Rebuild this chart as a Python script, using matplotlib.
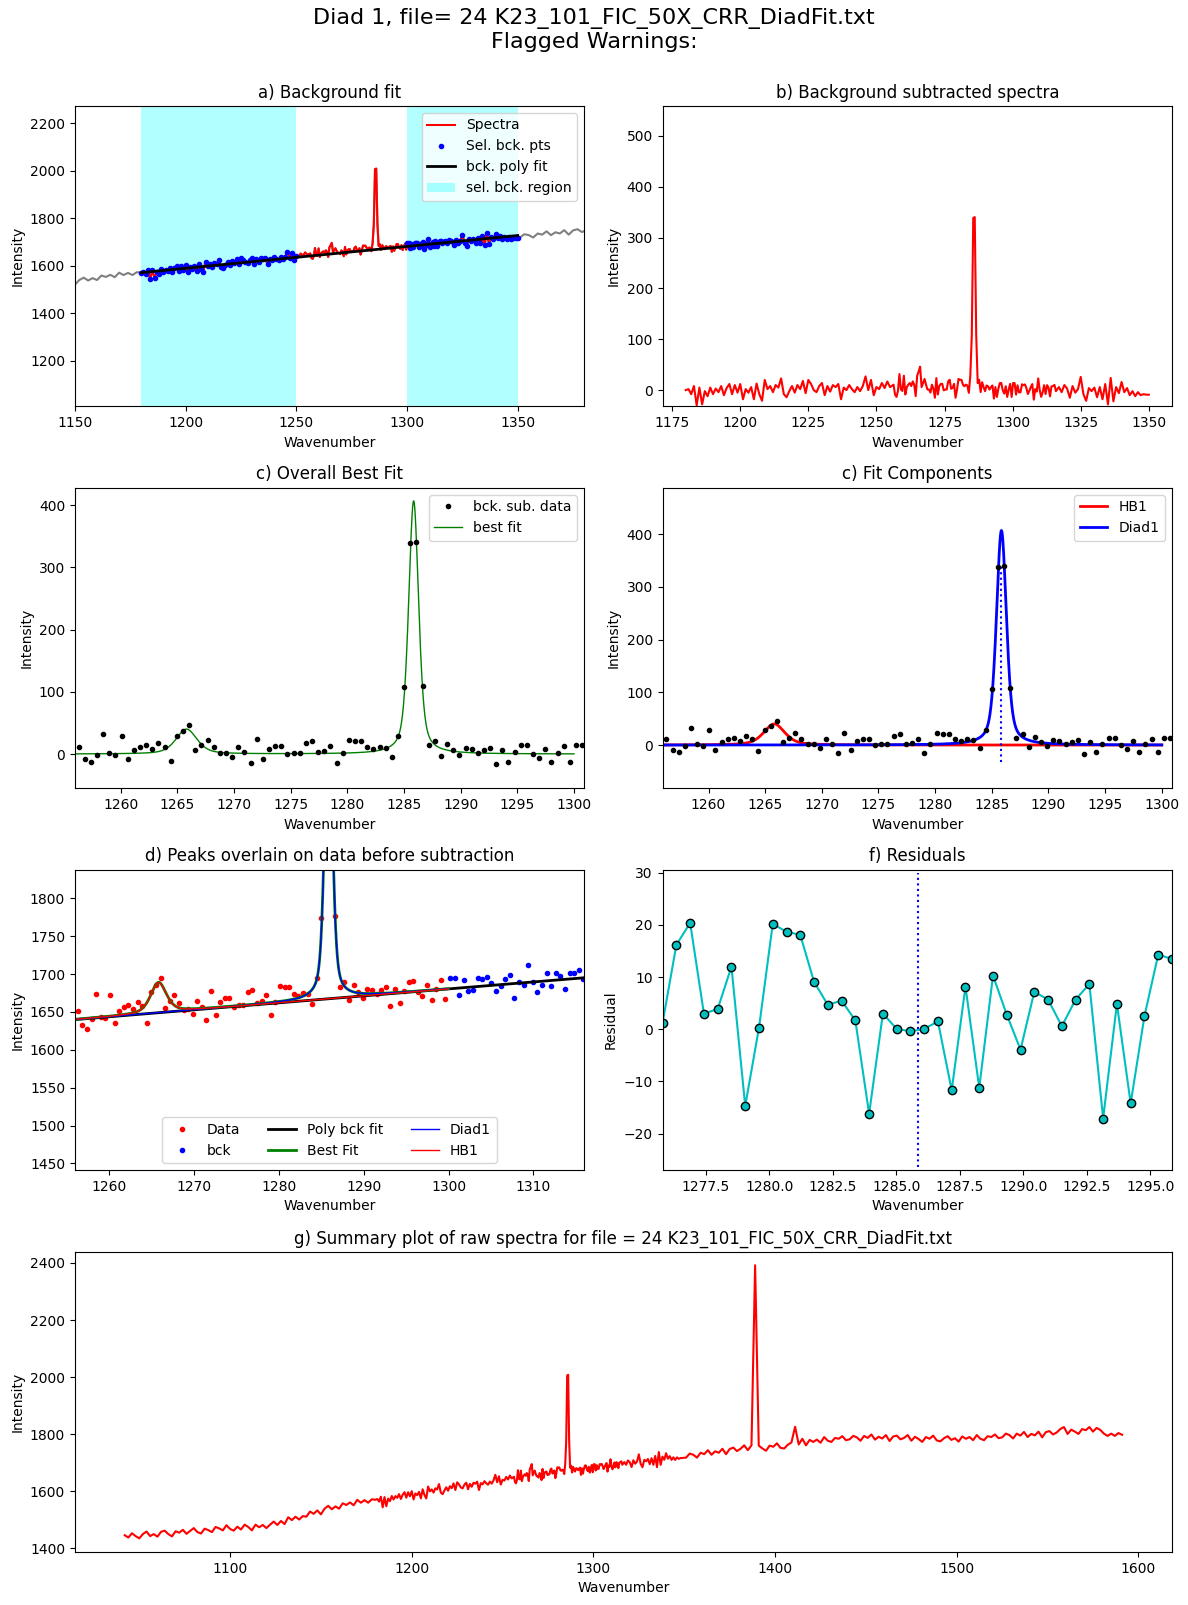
import numpy as np
import matplotlib
matplotlib.use('Agg')
from matplotlib import pyplot as plt

filename = '24 K23_101_FIC_50X_CRR_DiadFit.txt'

# raw spectrum, low wavenumber end (every 2 cm-1)
wn_lo = np.arange(1042, 1180, 2)
raw_lo = [1446, 1438, 1453, 1443, 1435, 1450, 1459, 1443, 1450, 1441,
          1458, 1462, 1450, 1442, 1460, 1455, 1465, 1451, 1461, 1471,
          1457, 1452, 1469, 1464, 1457, 1475, 1470, 1463, 1481, 1468,
          1462, 1476, 1466, 1483, 1475, 1463, 1483, 1474, 1482, 1471,
          1483, 1494, 1482, 1496, 1485, 1509, 1499, 1511, 1501, 1513,
          1511, 1529, 1521, 1533, 1519, 1539, 1549, 1537, 1547, 1539,
          1558, 1552, 1561, 1551, 1570, 1560, 1569, 1560, 1572]

# background subtracted, 1180-1255
wn_bl = np.arange(1180, 1256)
sub_bl = [0, 2, -8, 8, -30, 5, -28, -2, -12, 5,
          -8, 3, -4, 8, -10, 4, 12, -8, 10, -5,
          12, -18, 2, -5, 6, -18, 13, -8, -21, 20,
          2, 8, -4, 10, 5, 23, -8, -14, -2, 8,
          -5, 10, 2, 18, -6, 20, 12, 0, -4, 8,
          14, -10, 8, -3, 10, 6, 12, -18, 5, 0,
          10, 2, -4, 6, -2, 8, 27, 0, 20, -10,
          6, 2, 14, 4, 17, 6]

# background subtracted, fit window (pixel spacing)
wn_fine = 1256.28 + 0.542 * np.arange(111)
sub_fine = [10.7, -8.6, -13.4, -1.6, 31.6, 1.1, -1.6, 28.4, -8.6, 5.9,
            10.7, 13.9, 8.0, 17.1, 10.7, -11.8, 28.4, 36.4, 46.1, 5.9,
            13.9, 22.0, 10.7, 1.1, 1.1, -4.8, 10.7, 2.7, -15.0, 23.6,
            -8.6, 8.0, 12.3, 12.3, -0.5, 1.1, 1.1, 17.1, 20.4, 2.7,
            4.3, 12.3, -15.0, 1.1, 22.0, 20.4, 20.4, 10.7, 7.5, 10.7,
            9.1, -5.4, 28.4, 107.2, 338.7, 340.3, 108.8, 13.9, 20.4, -3.8,
            15.5, 5.9, -2.1, 9.1, 7.5, 1.1, 5.9, 9.1, -16.6, 5.9,
            -13.4, 2.7, 13.9, 13.9, -0.5, -7.0, 7.5, -13.4, 1.1, 12.3,
            -13.4, 13.9, 13.9, -8.8, 9.5, -4.7, -4.2, 11.4, 9.8, 11.2,
            3.8, -7.7, -1.2, 6.3, 11.9, -18.7, 2.0, -3.0, 23.0, 0.3,
            -13.2, -4.6, 9.8, -7.7, 9.8, 4.3, -12.2, 7.4, 7.9, 10.3,
            -2.1]

# background subtracted, 1317-1350
wn_br = np.arange(1317, 1351)
sub_br = [6, -4, 10, 3, -15, 8, -5, 2, 26, -8,
          -21, 4, -2, 5, -14, 6, -18, 12, -28, 24,
          -22, 6, -6, 16, -4, 4, -10, -2, -12, -4,
          -10, -8, -9, -9]

# raw spectrum, high wavenumber end (every 2 cm-1)
wn_hi = np.arange(1351, 1592, 2)
raw_hi = [1718, 1732, 1728, 1718, 1735, 1730, 1744, 1728, 1740, 1735,
          1749, 1730, 1748, 1753, 1741, 1749, 1761, 1744, 1761, 2392,
          1760, 1750, 1742, 1760, 1756, 1768, 1752, 1750, 1763, 1771,
          1826, 1764, 1784, 1761, 1780, 1773, 1781, 1770, 1790, 1777,
          1773, 1787, 1784, 1793, 1779, 1782, 1794, 1789, 1777, 1794,
          1787, 1799, 1781, 1791, 1785, 1797, 1776, 1792, 1795, 1782,
          1787, 1797, 1777, 1791, 1783, 1773, 1790, 1784, 1795, 1778,
          1775, 1786, 1793, 1780, 1786, 1774, 1792, 1784, 1790, 1779,
          1797, 1784, 1779, 1793, 1790, 1799, 1786, 1789, 1802, 1797,
          1785, 1802, 1795, 1808, 1790, 1801, 1796, 1809, 1789, 1807,
          1811, 1799, 1806, 1818, 1825, 1801, 1816, 1809, 1801, 1818,
          1814, 1825, 1809, 1822, 1815, 1802, 1794, 1802, 1794, 1804,
          1798]

# residuals in the +/-10 window around diad1
resid = [1.3, 16.2, 20.4, 3.0, 3.9, 12.0, -14.7, 0.3, 20.2, 18.7,
         18.1, 9.1, 4.7, 5.5, 1.7, -16.2, 3.0, 0.1, -0.4, 0.1,
         1.5, -11.7, 8.2, -11.2, 10.3, 2.8, -3.9, 7.2, 5.7, 0.6,
         5.7, 8.7, -17.1, 4.9, -14.2, 2.5, 14.3, 13.5]

# linear background fit
bck_coeffs = [0.92, 1640 - 0.92 * 1256]
bck_regions = [(1180, 1250), (1300, 1350)]

# fitted peaks (pseudo voigt)
diad1_cent, diad1_height, diad1_fwhm = 1285.85, 407.0, 1.05
hb1_cent, hb1_height, hb1_fwhm = 1265.8, 40.0, 2.2
lor_frac = 0.5


def pvoigt(x, cent, height, fwhm, eta=lor_frac):
    u = (x - cent) / fwhm
    lor = 1 / (1 + 4 * u**2)
    gau = np.exp(-4 * np.log(2) * u**2)
    return height * (eta * lor + (1 - eta) * gau)


def base(x):
    return np.polyval(bck_coeffs, x)


sub_bl = np.array(sub_bl, float)
sub_fine = np.array(sub_fine, float)
sub_br = np.array(sub_br, float)

wn_sub = np.concatenate([wn_bl, wn_fine, wn_br])
sub_all = np.concatenate([sub_bl, sub_fine, sub_br])
raw_sub = sub_all + base(wn_sub)
raw_fine = sub_fine + base(wn_fine)

wn_all = np.concatenate([wn_lo, wn_sub, wn_hi])
raw_all = np.concatenate([raw_lo, raw_sub, raw_hi])

bck_mask = np.zeros(len(wn_sub), bool)
for lo, hi in bck_regions:
    bck_mask |= (wn_sub >= lo) & (wn_sub <= hi)

x_fit = np.linspace(1256, 1300, 2000)
diad1_fit = pvoigt(x_fit, diad1_cent, diad1_height, diad1_fwhm)
hb1_fit = pvoigt(x_fit, hb1_cent, hb1_height, hb1_fwhm)
best_fit = diad1_fit + hb1_fit

fig = plt.figure(figsize=(11.88, 16.05), dpi=100)
gs = fig.add_gridspec(4, 2, left=0.063, right=0.9865, top=0.934, bottom=0.033,
                      hspace=0.271, wspace=0.154)
ax1 = fig.add_subplot(gs[0, 0])
ax2 = fig.add_subplot(gs[0, 1])
ax3 = fig.add_subplot(gs[1, 0])
ax4 = fig.add_subplot(gs[1, 1])
ax5 = fig.add_subplot(gs[2, 0])
ax6 = fig.add_subplot(gs[2, 1])
ax7 = fig.add_subplot(gs[3, :])

fig.suptitle('Diad 1, file= ' + filename + '\nFlagged Warnings:', fontsize=16, y=0.995)

# a) background fit
ax1.plot(wn_all, raw_all, '-', color='grey')
ax1.plot(wn_sub, raw_sub, '-r', label='Spectra')
ax1.plot(wn_sub[bck_mask], raw_sub[bck_mask], '.b', label='Sel. bck. pts')
ax1.plot(wn_sub, base(wn_sub), '-k', lw=2, label='bck. poly fit')
for i, (lo, hi) in enumerate(bck_regions):
    ax1.axvspan(lo, hi, color='cyan', alpha=0.3, lw=0,
                label='sel. bck. region' if i == 0 else None)
ax1.set_xlim(1150, 1380)
ax1.set_ylim(1007, 2272)
ax1.set_title('a) Background fit')
ax1.set_xlabel('Wavenumber')
ax1.set_ylabel('Intensity')
ax1.legend(loc='upper right')

# b) background subtracted
ax2.plot(wn_sub, sub_all, '-r')
ax2.set_ylim(-32, 559)
ax2.set_title('b) Background subtracted spectra')
ax2.set_xlabel('Wavenumber')
ax2.set_ylabel('Intensity')

# c) overall best fit
ax3.plot(wn_fine, sub_fine, '.k', label='bck. sub. data', zorder=3)
ax3.plot(x_fit, best_fit, '-g', lw=1, label='best fit')
ax3.set_xlim(1255.95, 1300.9)
ax3.set_ylim(-55, 428)
ax3.set_title('c) Overall Best Fit')
ax3.set_xlabel('Wavenumber')
ax3.set_ylabel('Intensity')
ax3.legend(loc='upper right')

# c) fit components
ax4.plot(x_fit, hb1_fit, '-r', lw=2, label='HB1')
ax4.plot(x_fit, diad1_fit, '-b', lw=2, label='Diad1')
ax4.plot(wn_fine, sub_fine, '.k', zorder=3)
ax4.vlines(diad1_cent, -33, 340, colors='b', linestyles=':')
ax4.set_xlim(1255.95, 1300.9)
ax4.set_ylim(-82, 488)
ax4.set_title('c) Fit Components')
ax4.set_xlabel('Wavenumber')
ax4.set_ylabel('Intensity')
ax4.legend(loc='upper right')

# d) peaks over raw data
data_mask = wn_fine <= 1300
ax5.plot(wn_fine[data_mask], raw_fine[data_mask], '.r', label='Data')
ax5.plot(wn_sub[bck_mask], raw_sub[bck_mask], '.b', label='bck')
ax5.plot(wn_sub, base(wn_sub), '-k', lw=2, label='Poly bck fit')
ax5.plot(x_fit, best_fit + base(x_fit), '-g', lw=2, label='Best Fit')
ax5.plot(x_fit, diad1_fit + base(x_fit), '-b', lw=1, label='Diad1')
ax5.plot(x_fit, hb1_fit + base(x_fit), '-r', lw=1, label='HB1')
ax5.set_xlim(1255.93, 1316)
ax5.set_ylim(1441, 1838)
ax5.set_title('d) Peaks overlain on data before subtraction')
ax5.set_xlabel('Wavenumber')
ax5.set_ylabel('Intensity')
ax5.legend(loc='lower center', ncol=3)

# f) residuals
wn_res = wn_fine[36:74]
ax6.plot(wn_res, resid, 'o-', color='c', mfc='c', mec='k')
ax6.vlines(diad1_cent, -26.4, 30, colors='b', linestyles=':')
ax6.set_xlim(wn_res[0], wn_res[-1])
ax6.set_ylim(-27, 30.6)
ax6.set_title('f) Residuals')
ax6.set_xlabel('Wavenumber')
ax6.set_ylabel('Residual')

# g) summary
ax7.plot(wn_all, raw_all, '-r')
ax7.set_title('g) Summary plot of raw spectra for file = ' + filename)
ax7.set_xlabel('Wavenumber')
ax7.set_ylabel('Intensity')

fig.savefig('out.png', dpi=100)
